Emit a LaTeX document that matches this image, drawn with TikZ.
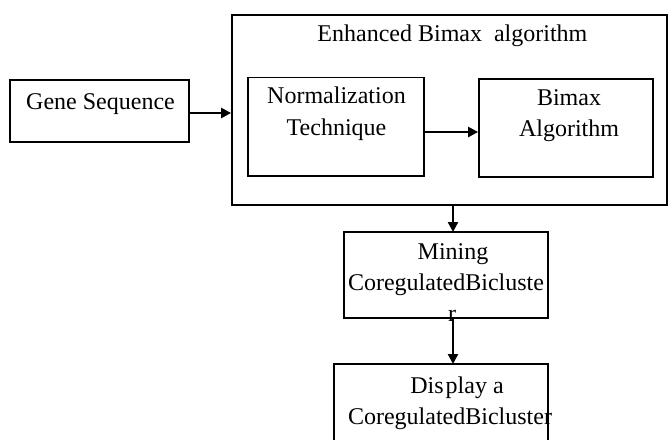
\documentclass[tikz,border=0pt]{standalone}
\usepackage{fontspec}
\setmainfont{Liberation Serif}
\usetikzlibrary{arrows.meta}
\begin{document}
\begin{tikzpicture}[x=1pt,y=-1pt,
  blockbox/.style={draw,line width=1.8pt,inner sep=0pt},
  lbl/.style={inner sep=0pt,anchor=base,font=\fontsize{24}{31}\selectfont},
  flow/.style={line width=2.4pt,-{Triangle[length=10pt,width=10pt]}}]
\useasboundingbox (0,0) rectangle (668,439);
% boxes
\node[blockbox,minimum width=435pt,minimum height=190pt] (outer) at (449.5,110) {};
\node[blockbox,minimum width=179pt,minimum height=62pt] (gene) at (99.5,111) {};
\node[blockbox,minimum width=176pt,minimum height=98.5pt] (norm) at (336,126.75) {};
\node[blockbox,minimum width=174pt,minimum height=98pt] (bimax) at (566,128) {};
\node[blockbox,minimum width=204pt,minimum height=86pt] (mining) at (446,275) {};
\node[blockbox,minimum width=214pt,minimum height=86pt] (display) at (441,407) {};
% labels, one node per printed line
\node[lbl] (tOuter) at (452.4,41.7) {Enhanced Bimax\ \ algorithm};
\node[lbl] (tGene) at (100.5,109.5) {Gene Sequence};
\node[lbl] (tNormA) at (336.5,103.5) {Normalization};
\node[lbl] (tNormB) at (336.5,135) {Technique};
\node[lbl] (tBimaxA) at (569,105) {Bimax};
\node[lbl] (tBimaxB) at (569,136) {Algorithm};
\node[lbl] (tMineA) at (453,259) {Mining};
\node[lbl] (tMineB) at (446,290) {CoregulatedBicluste};
\node[lbl] (tMineC) at (452,321) {r};
\node[lbl] (tDispA) at (457,393) {Dis\kern2pt play a};
\node[lbl] (tDispB) at (450,424) {CoregulatedBicluster};
% connectors
\coordinate (oa) at (453,205);
\coordinate (ma) at (453,232);
\coordinate (mb) at (453,318);
\coordinate (da) at (453,364);
\draw[flow] (gene.east |- 0,113) -- (outer.west |- 0,113);
\draw[flow] (norm.east |- 0,132) -- (bimax.west |- 0,132);
\draw[flow] (oa) -- (ma);
\draw[flow] (mb) -- (da);
\end{tikzpicture}
\end{document}
